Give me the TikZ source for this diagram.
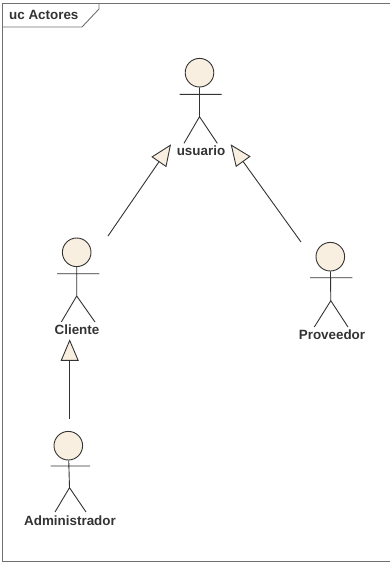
\documentclass[tikz,border=0pt]{standalone}
\usepackage{fontspec}
\setmainfont{Liberation Sans}
\usetikzlibrary{arrows.meta}
\definecolor{skin}{HTML}{F9EFE0}
\definecolor{ink}{HTML}{333333}
\definecolor{framegray}{HTML}{707070}
\tikzset{
  x=1pt,y=-1pt,
  head/.style={circle,draw=ink,fill=skin,line width=0.9pt,minimum size=28.6pt,inner sep=0pt},
  limb/.style={draw=ink,line width=0.9pt},
  actorlabel/.style={text=ink,font=\fontsize{13.4}{15}\selectfont\bfseries,inner sep=0pt},
  generalize/.style={draw=ink,line width=0.9pt,-{Triangle[open,fill=skin,length=21.5pt,width=18pt]}},
  frameline/.style={draw=framegray,line width=0.9pt},
}
\begin{document}
\begin{tikzpicture}
\useasboundingbox (0,0) rectangle (390,562);
\coordinate (frTR) at (390,3);
\coordinate (frTL) at (2,3);
\coordinate (frBL) at (2,561);
\coordinate (frBR) at (390,561);
\draw[frameline] (frTR) -- (frTL) -- (frBL) -- (frBR);
\coordinate (tabA) at (2,27);
\coordinate (tabB) at (82,27);
\coordinate (tabC) at (99,9);
\coordinate (tabD) at (99,3);
\draw[frameline] (tabA) -- (tabB) -- (tabC) -- (tabD);
\node[anchor=west,text=ink,font=\fontsize{13.4}{15}\selectfont\bfseries,inner sep=0pt] (title) at (9,15) {uc Actores};
% usuario
\node[head] (uh) at (199.5,72.7) {};
\coordinate (ub) at (199.5,116.7);
\coordinate (ual) at (179.5,94.3);
\coordinate (uar) at (221.7,94.3);
\coordinate (ull) at (184,143.3);
\coordinate (ulr) at (217.3,143.3);
\draw[limb] (uh) -- (ub) (ual) -- (uar) (ull) -- (ub) -- (ulr);
\node[actorlabel] (ut) at (201,150.7) {usuario};
% cliente
\node[head] (ch) at (76.7,252.3) {};
\coordinate (cb) at (76.7,296);
\coordinate (cal) at (57,273.7);
\coordinate (car) at (99.3,273.7);
\coordinate (cll) at (61.3,322);
\coordinate (clr) at (95,322);
\draw[limb] (ch) -- (cb) (cal) -- (car) (cll) -- (cb) -- (clr);
\node[actorlabel] (ct) at (77,330) {Cliente};
% proveedor
\node[head] (ph) at (330.3,256.7) {};
\coordinate (pb) at (330.8,300.7);
\coordinate (pal) at (310,277.7);
\coordinate (par) at (352.3,277.7);
\coordinate (pll) at (314.3,327);
\coordinate (plr) at (348,327);
\draw[limb] (ph) -- (pb) (pal) -- (par) (pll) -- (pb) -- (plr);
\node[actorlabel] (pt) at (332,335) {Proveedor};
% administrador
\node[head] (ah) at (68.3,445.7) {};
\coordinate (ab) at (69.5,487.7);
\coordinate (aal) at (50.7,466);
\coordinate (aar) at (90,466);
\coordinate (all) at (55,512);
\coordinate (alr) at (86,512);
\draw[limb] (ah) -- (ab) (aal) -- (aar) (all) -- (ab) -- (alr);
\node[actorlabel] (at) at (70,520.7) {Administrador};
% generalizations
\coordinate (g1s) at (108,236);
\coordinate (g1e) at (171,144.3);
\coordinate (g2s) at (301,242);
\coordinate (g2e) at (230.7,144.3);
\coordinate (g3s) at (69.7,419);
\coordinate (g3e) at (69.7,339.3);
\draw[generalize] (g1s) -- (g1e);
\draw[generalize] (g2s) -- (g2e);
\draw[generalize] (g3s) -- (g3e);
\end{tikzpicture}
\end{document}
